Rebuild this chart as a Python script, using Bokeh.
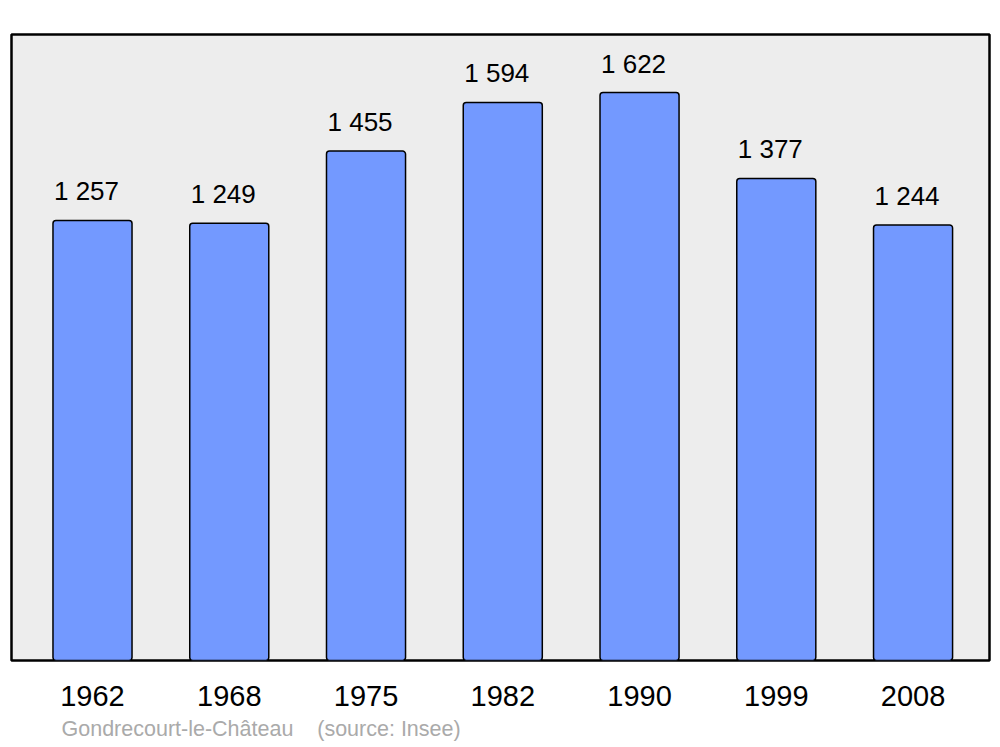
from bokeh.plotting import figure
from bokeh.models import Range1d, ColumnDataSource, Title, FixedTicker
from bokeh.embed import file_html
from bokeh.resources import INLINE
from bokeh.core.properties import value

years = ["1962", "1968", "1975", "1982", "1990", "1999", "2008"]
population = [1257, 1249, 1455, 1594, 1622, 1377, 1244]
labels = ["1 257", "1 249", "1 455", "1 594", "1 622", "1 377", "1 244"]
source_text = "Gondrecourt-le-Château\u00a0\u00a0\u00a0\u00a0(source: Insee)"

xs = list(range(len(years)))
src = ColumnDataSource(dict(x=xs, top=population, label=labels))

p = figure(width=1000, height=747, output_backend="svg", toolbar_location=None,
           x_range=Range1d(-0.5923, 6.559), y_range=Range1d(0, 1788),
           min_border_left=11, min_border_right=11, min_border_top=34, min_border_bottom=87)

p.background_fill_color = "#ededed"
p.border_fill_color = "white"
p.outline_line_color = "black"
p.outline_line_width = 2.5
p.xgrid.visible = False
p.ygrid.visible = False
p.yaxis.visible = False

p.vbar(x="x", top="top", bottom=0, width=0.578, source=src,
       fill_color="#7399ff", line_color="black", line_width=1.5, border_radius=3)

p.text(x="x", y="top", text="label", source=src, x_offset=-6, y_offset=-29,
       text_align="center", text_baseline="alphabetic",
       text_font=value("Liberation Sans"), text_font_size="26px", text_color="black")

ax = p.xaxis[0]
ax.ticker = FixedTicker(ticks=xs)
ax.major_label_overrides = {i: y for i, y in zip(xs, years)}
ax.axis_line_color = None
ax.major_tick_line_color = None
ax.minor_tick_line_color = None
ax.major_label_standoff = 19
ax.major_label_text_font = "Liberation Sans"
ax.major_label_text_font_size = "29px"
ax.major_label_text_color = "black"

t = Title(text=source_text, align="left", offset=50, standoff=13,
          text_font="Liberation Sans", text_font_size="21.5px", text_font_style="normal",
          text_color="#aaaaaa")
p.add_layout(t, "below")

open("out.html", "w").write(file_html(p, INLINE))
